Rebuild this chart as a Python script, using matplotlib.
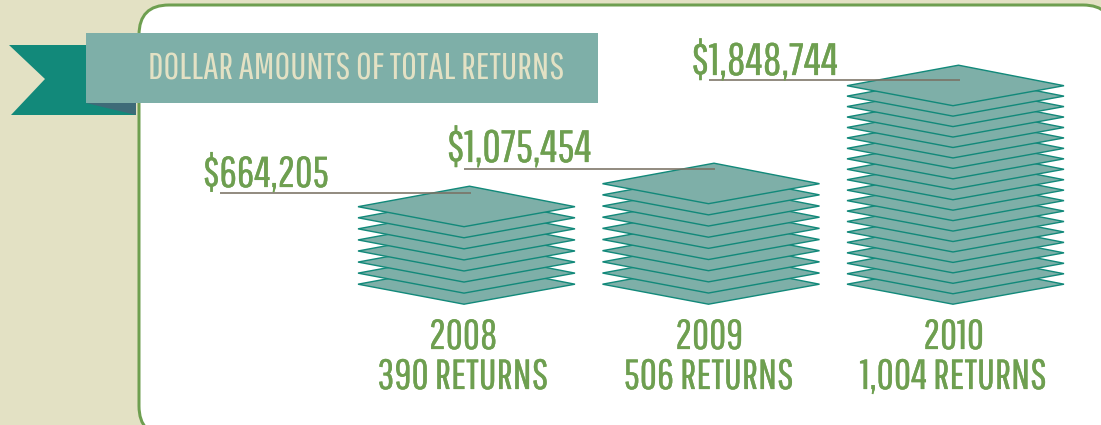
import matplotlib
matplotlib.use('Agg')
import matplotlib.pyplot as plt
from matplotlib.patches import FancyBboxPatch, Polygon
import matplotlib.patheffects as pe

# --- data ---
years = ['2008', '2009', '2010']
return_labels = ['390 RETURNS', '506 RETURNS', '1,004 RETURNS']
dollar_labels = ['$664,205', '$1,075,454', '$1,848,744']
sheet_counts = [8, 10, 20]
title = 'DOLLAR AMOUNTS OF TOTAL RETURNS'

# --- style / layout (pixels) ---
W, H = 1101, 425
FONT = ['Pathway Gothic One', 'Liberation Sans Narrow', 'DejaVu Sans']
BEIGE, GREEN, TEAL, SHEET, EDGE = '#E3E1C4', '#6E9F50', '#12897A', '#7EAFA8', '#12897A'
SHADOW, LEADER = '#3E6B78', '#7A7164'
stack_left = [358, 602.5, 847]
stack_top = [206.7, 183.7, 85.7]
stack_bottom = 284.2
label_center = [463, 709, 953.5]
value_x = [203, 447, 691.5]
value_size = [31, 32.5, 32.5]
value_base = [187, 162, 75]
leader_y = [193, 168.5, 80]
leader_x0 = [220, 464, 709]
px = 72 / 100


def bold(color):
    return [pe.withStroke(linewidth=0.25 * px, foreground=color)]


fig = plt.figure(figsize=(W / 100, H / 100), dpi=100, facecolor=BEIGE)
ax = fig.add_axes([0, 0, 1, 1])
ax.set_xlim(0, W)
ax.set_ylim(H, 0)
ax.axis('off')

ax.add_patch(FancyBboxPatch((139, 5), 974, 431, boxstyle='round,pad=0,rounding_size=30',
                            fc='white', ec=GREEN, lw=3 * px, zorder=1))

# ribbon
ax.add_patch(Polygon([(9, 45), (136, 45), (136, 115), (11, 115), (45, 79)], fc=TEAL, ec='none', zorder=2))
ax.add_patch(Polygon([(86, 103), (136, 103), (136, 115)], fc=SHADOW, ec='none', zorder=3))
ax.add_patch(Polygon([(86, 33), (598, 33), (598, 103), (86, 103)], fc=SHEET, ec='none', zorder=4))
ax.text(148.5, 79, title, family=FONT, fontsize=27.7, color=BEIGE, va='baseline', ha='left', zorder=5)

# stacks of sheets
for i, n in enumerate(sheet_counts):
    step = (stack_bottom - stack_top[i]) / (n - 1)
    x0 = stack_left[i]
    for k in range(n):
        y = stack_bottom - k * step
        ax.add_patch(Polygon([(x0, y), (x0 + 111.5, y - 20.5), (x0 + 217, y), (x0 + 106, y + 20)],
                             closed=True, fc=SHEET, ec=EDGE, lw=1.4 * px, joinstyle='miter', zorder=6 + k * 0.01))
    ax.plot([leader_x0[i], leader_x0[i] + 251], [leader_y[i]] * 2, color=LEADER, lw=1.6 * px, zorder=8,
            solid_capstyle='butt')
    ax.text(value_x[i], value_base[i], dollar_labels[i], family=FONT, fontsize=value_size[i], color=GREEN,
            va='baseline', ha='left', zorder=9, path_effects=bold(GREEN))
    ax.text(label_center[i], 349, years[i], family=FONT, fontsize=30, color=GREEN,
            va='baseline', ha='center', zorder=9, path_effects=bold(GREEN))
    ax.text(label_center[i], 389, return_labels[i], family=FONT, fontsize=30.3, color=GREEN,
            va='baseline', ha='center', zorder=9, path_effects=bold(GREEN))

fig.savefig('out.png', dpi=100, facecolor=BEIGE)
